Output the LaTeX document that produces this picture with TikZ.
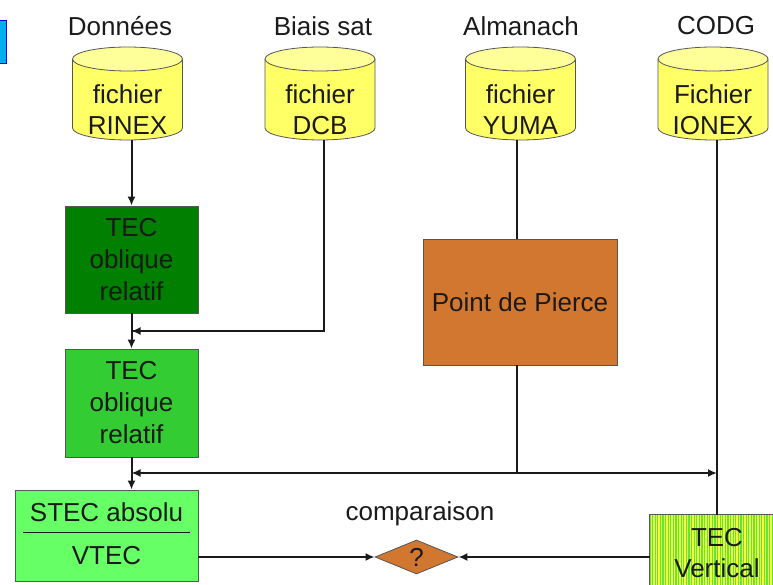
\documentclass[tikz,border=0pt]{standalone}
\usepackage{fontspec}
\setmainfont{Liberation Sans}
\usetikzlibrary{arrows.meta,shapes.geometric,patterns.meta}
\definecolor{cylbody}{HTML}{FFFF66}
\definecolor{cyltop}{HTML}{FFFF99}
\definecolor{darkgr}{HTML}{007F00}
\definecolor{midgr}{HTML}{33CC33}
\definecolor{lightgr}{HTML}{66FF66}
\definecolor{orng}{HTML}{D2772F}
\definecolor{edge}{HTML}{555555}
\definecolor{ink}{HTML}{1A1A1A}
\definecolor{stripeg}{HTML}{66E633}
\definecolor{stripey}{HTML}{EEFF44}
\tikzset{
  lbl/.style={font=\fontsize{26}{31}\selectfont, text=ink, align=center, inner sep=0pt},
  boxnode/.style={draw=edge, line width=0.8pt, font=\fontsize{26}{32}\selectfont, text=ink, align=center, inner sep=0pt},
  conn/.style={draw=ink, line width=2pt},
  arr/.style={conn, -{Latex[length=9pt,width=8pt]}},
}
\newcommand\mycyl[2]{%
  \fill[cylbody] (#1-55,#2) -- (#1-55,#2+69) arc[start angle=180,end angle=360,x radius=55pt,y radius=12pt] -- (#1+55,#2) -- cycle;
  \draw[edge, line width=0.8pt] (#1-55,#2) -- (#1-55,#2+69) arc[start angle=180,end angle=360,x radius=55pt,y radius=12pt] -- (#1+55,#2);
  \draw[edge, line width=0.8pt, fill=cyltop] (#1,#2) ellipse[x radius=55pt, y radius=12pt];
}
\begin{document}
\begin{tikzpicture}[x=1pt,y=-1pt]
\useasboundingbox (0,0) rectangle (773,585);
% small cyan mark
\draw[blue, fill=cyan, line width=0.8pt] (-2,20) rectangle (6,63);
% titles
\node[lbl] (t1) at (120,26) {Données};
\node[lbl] (t2) at (323,26) {Biais sat};
\node[lbl] (t3) at (521,26) {Almanach};
\node[lbl] (t4) at (716,26) {CODG};
% cylinders
\mycyl{127.5}{59}
\mycyl{320}{59}
\mycyl{520.5}{59}
\mycyl{713}{59}
\node[lbl] (rinex) at (127.5,110) {fichier\\RINEX};
\node[lbl] (dcb) at (320,110) {fichier\\DCB};
\node[lbl] (yuma) at (520.5,110) {fichier\\YUMA};
\node[lbl] (ionex) at (713,110) {Fichier\\IONEX};
\coordinate (rinexb) at (131.5,140);
\coordinate (dcbb) at (324,140);
\coordinate (yumab) at (517,140);
\coordinate (ionexb) at (717,140);
% boxes
\node[boxnode, fill=darkgr, minimum width=133pt, minimum height=107pt] (tec1) at (131.5,259.5) {TEC\\oblique\\relatif};
\node[boxnode, fill=midgr, minimum width=133pt, minimum height=108pt] (tec2) at (131.5,403) {TEC\\oblique\\relatif};
\node[boxnode, fill=orng, minimum width=194pt, minimum height=126pt] (pierce) at (520,302) {Point de Pierce};
\node[boxnode, fill=lightgr, minimum width=183pt, minimum height=91pt] (stec) at (106.5,535.5) {};
\node[lbl] (stect) at (106.5,512) {STEC absolu};
\node[lbl] (vtect) at (106.5,556) {VTEC};
\draw[ink, line width=0.8pt] (23,532) -- (190,532);
\node[boxnode, draw=none, fill=stripey, minimum width=134pt, minimum height=84pt] (tecv) at (717,557) {};
\fill[pattern={Lines[angle=90,distance=2.6pt,line width=1.1pt]}, pattern color=stripeg] (tecv.south west) rectangle (tecv.north east);
\draw[edge, line width=0.8pt] (tecv.south west) rectangle (tecv.north east);
\node[lbl] (tecvt) at (717,553) {TEC\\Vertical};
\node[draw=edge, line width=0.8pt, fill=orng, diamond, aspect=2.44, minimum width=83pt, minimum height=34pt, inner sep=0pt] (dia) at (416.5,557) {};
\node[lbl] at (dia) {?};
\node[lbl] (comp) at (420,514) {comparaison};
% junctions
\coordinate (j1) at (131.5,331);
\coordinate (j2) at (131.5,473);
\coordinate (j3) at (517,473);
\coordinate (j4) at (717,473);
% connectors
\draw[arr] (rinexb) -- (tec1.north);
\draw[conn] (dcbb) |- (j1);
\draw[arr] (dcbb |- j1) -- (j1);
\draw[arr] (tec1.south) -- (tec2.north);
\draw[conn] (yumab) -- (yumab |- pierce.north);
\draw[conn] (yumab |- pierce.south) -- (j3);
\draw[arr] (j3) -- (j2);
\draw[arr] (j3) -- (j4);
\draw[arr] (tec2.south) -- (tec2.south |- stec.north);
\draw[conn] (ionexb) -- (ionexb |- tecv.north);
\draw[arr] (stec.east |- dia.west) -- (dia.west);
\draw[arr] (tecv.west) -- (dia.east);
\end{tikzpicture}
\end{document}
